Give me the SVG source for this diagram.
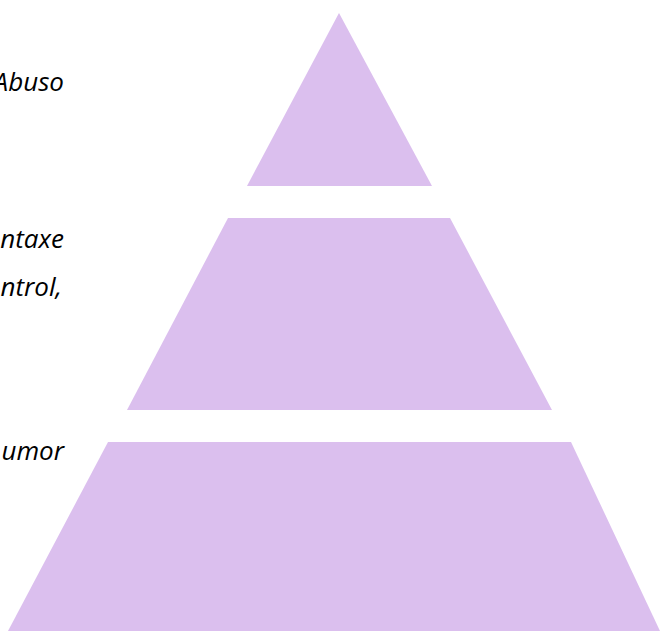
<svg xmlns="http://www.w3.org/2000/svg" width="666" height="631" viewBox="0 0 666 631">
<style>
.t{font-family:"Open Sans","Noto Sans",sans-serif;font-style:italic;font-size:26px;fill:#000;text-anchor:end}
.p{fill:#dbbfee}
</style>
<rect width="666" height="631" fill="#fff"/>
<g id="labels">
<text class="t" x="64" y="91">Abuso</text>
<text class="t" x="64" y="248">ntaxe</text>
<text class="t" x="62" y="296">ntrol,</text>
<text class="t" x="64" y="460">umor</text>
</g>
<g id="top"><polygon class="p" points="339,13 432,186 247,186"/></g>
<g id="middle"><polygon class="p" points="228,218 450,218 552,410 127,410"/></g>
<g id="bottom"><polygon class="p" points="108,442 571,442 660,631 8,631"/></g>
</svg>
